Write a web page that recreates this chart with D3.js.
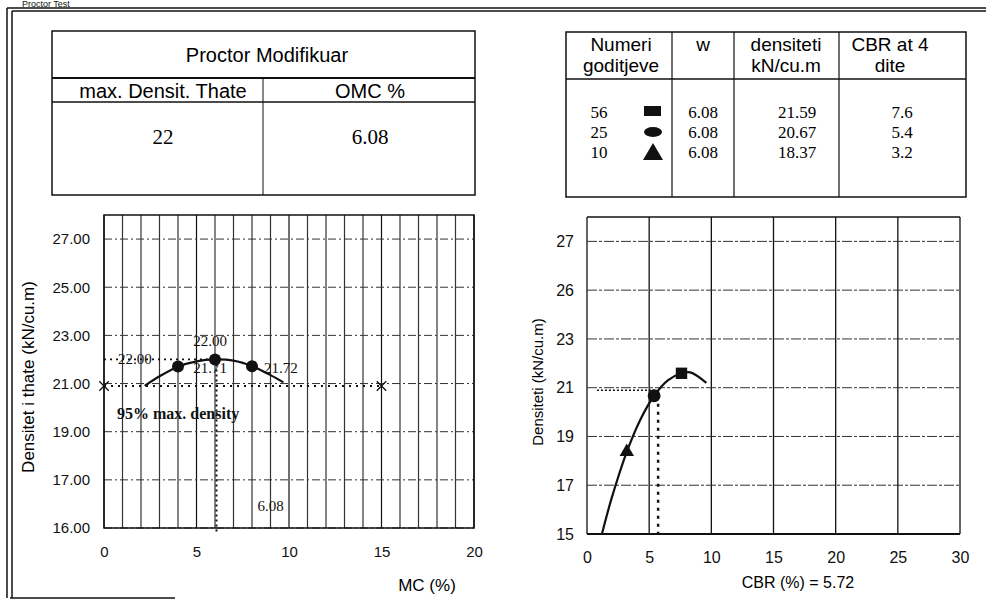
<!DOCTYPE html>
<html>
<head>
<meta charset="utf-8">
<script src="https://cdn.jsdelivr.net/npm/d3@7"></script>
<style>
  body { margin: 0; background: #fff; }
  svg { display: block; }
  .sans { font-family: "Liberation Sans", Arial, sans-serif; }
  .serif { font-family: "Liberation Serif", "Times New Roman", serif; }
</style>
</head>
<body>
<div id="chart-area"></div>
<script>
/*
*    proctor + CBR sheet
*/

// ---- data ----
var maxDensity = 22;
var omc = 6.08;
var density95 = 20.9;

// proctor test points
var mcPoints = [4, 6, 8];
var densPoints = [21.71, 22.00, 21.72];
var pointLabels = ["21.71", "22.00", "21.72"];

// proctor curve
var mcCurve = [2.2, 3, 4, 5, 6, 7, 8, 9, 9.7];
var densCurve = [20.9, 21.3, 21.7, 21.92, 22.0, 21.95, 21.72, 21.35, 21.05];

// 95% line ends
var mc95 = [0, 15];

// CBR table
var blows = [56, 25, 10];
var wValues = [6.08, 6.08, 6.08];
var cbrDens = [21.59, 20.67, 18.37];
var cbrValues = [7.6, 5.4, 3.2];
var cbrSymbols = ["square", "circle", "triangle"];

// CBR curve
var cbrCurve = [1.2, 2, 3.2, 4.3, 5.4, 6.5, 7.6, 8.3, 9.6];
var cbrDensCurve = [15, 16.5, 18.37, 19.7, 20.67, 21.3, 21.59, 21.63, 21.2];
var cbrResult = 5.72;

// ticks
var mcTicks = [0, 5, 10, 15, 20];
var cbrTicks = [0, 5, 10, 15, 20, 25, 30];
var yTicks = [15, 17, 19, 21, 23, 25, 27];
var leftYLabels = ["16.00", "17.00", "19.00", "21.00", "23.00", "25.00", "27.00"];
var rightYLabels = ["15", "17", "19", "21", "23", "26", "27"];

var W = 986, H = 600;

var svg = d3.select("#chart-area").append("svg")
    .attr("width", W)
    .attr("height", H);

// ---- sheet frame ----
svg.append("text").attr("class", "sans")
    .attr("x", 22).attr("y", 7)
    .attr("font-size", 9).attr("fill", "#111")
    .text("Proctor Test");

var frame = svg.append("g").attr("stroke", "#111").attr("fill", "none");
frame.append("line").attr("x1", 7).attr("y1", 8).attr("x2", W).attr("y2", 8).attr("stroke-width", 1.5);
frame.append("line").attr("x1", 12).attr("y1", 11).attr("x2", W).attr("y2", 11).attr("stroke-width", 1.5);
frame.append("line").attr("x1", 7).attr("y1", 8).attr("x2", 7).attr("y2", 598).attr("stroke-width", 1.5);
frame.append("line").attr("x1", 12).attr("y1", 11).attr("x2", 12).attr("y2", 598).attr("stroke-width", 1.5);
frame.append("line").attr("x1", 10).attr("y1", 598).attr("x2", 175).attr("y2", 598).attr("stroke-width", 1.5);

// ---- left table ----
var t1 = svg.append("g").attr("stroke", "#111").attr("fill", "none").attr("stroke-width", 1.5);
t1.append("rect").attr("x", 52).attr("y", 31).attr("width", 423).attr("height", 164);
t1.append("line").attr("x1", 52).attr("y1", 78).attr("x2", 475).attr("y2", 78).attr("stroke-width", 2);
t1.append("line").attr("x1", 52).attr("y1", 102).attr("x2", 475).attr("y2", 102);
t1.append("line").attr("x1", 263).attr("y1", 78).attr("x2", 263).attr("y2", 195).attr("stroke-width", 1);

svg.append("text").attr("class", "sans").attr("x", 267).attr("y", 62)
    .attr("text-anchor", "middle").attr("font-size", 20).text("Proctor Modifikuar");
svg.append("text").attr("class", "sans").attr("x", 163).attr("y", 98)
    .attr("text-anchor", "middle").attr("font-size", 20).text("max. Densit. Thate");
svg.append("text").attr("class", "sans").attr("x", 370).attr("y", 98)
    .attr("text-anchor", "middle").attr("font-size", 20).text("OMC %");
svg.append("text").attr("class", "serif").attr("x", 163).attr("y", 144)
    .attr("text-anchor", "middle").attr("font-size", 21).text(maxDensity);
svg.append("text").attr("class", "serif").attr("x", 370).attr("y", 144)
    .attr("text-anchor", "middle").attr("font-size", 21).text(omc.toFixed(2));

// ---- right table ----
var t2 = svg.append("g").attr("stroke", "#111").attr("fill", "none").attr("stroke-width", 1.5);
t2.append("rect").attr("x", 566).attr("y", 32).attr("width", 400).attr("height", 165);
t2.append("line").attr("x1", 566).attr("y1", 79).attr("x2", 966).attr("y2", 79);
[672, 734, 839].forEach((cx) => {
    t2.append("line").attr("x1", cx).attr("y1", 32).attr("x2", cx).attr("y2", 197).attr("stroke-width", 1.2);
});

var heads = [["Numeri", "goditjeve", 621], ["w", "", 703], ["densiteti", "kN/cu.m", 786], ["CBR at 4", "dite", 890]];
heads.forEach((h) => {
    svg.append("text").attr("class", "sans").attr("x", h[2]).attr("y", 51)
        .attr("text-anchor", "middle").attr("font-size", 19).text(h[0]);
    svg.append("text").attr("class", "sans").attr("x", h[2]).attr("y", 72)
        .attr("text-anchor", "middle").attr("font-size", 19).text(h[1]);
});

var rowY = d3.scalePoint().domain(blows).range([118, 158]);
var symGen = {
    square: d3.symbol().type(d3.symbolSquare),
    circle: d3.symbol().type(d3.symbolCircle),
    triangle: d3.symbol().type(d3.symbolTriangle)
};

blows.forEach((b, i) => {
    var y = rowY(b);
    svg.append("text").attr("class", "serif").attr("x", 599).attr("y", y)
        .attr("text-anchor", "middle").attr("font-size", 17).text(b);
    svg.append("text").attr("class", "serif").attr("x", 703).attr("y", y)
        .attr("text-anchor", "middle").attr("font-size", 17).text(wValues[i].toFixed(2));
    svg.append("text").attr("class", "serif").attr("x", 797).attr("y", y)
        .attr("text-anchor", "middle").attr("font-size", 17).text(cbrDens[i].toFixed(2));
    svg.append("text").attr("class", "serif").attr("x", 902).attr("y", y)
        .attr("text-anchor", "middle").attr("font-size", 17).text(cbrValues[i].toFixed(1));
});

// legend glyphs in table
svg.append("rect").attr("x", 644).attr("y", 106).attr("width", 17).attr("height", 10).attr("fill", "#111");
svg.append("ellipse").attr("cx", 653).attr("cy", 132).attr("rx", 9).attr("ry", 5).attr("fill", "#111");
svg.append("path").attr("d", "M643,160 L653,143 L663,160 Z").attr("fill", "#111");

// ---- left chart: proctor ----
var xL = d3.scaleLinear().domain([0, 20]).range([104, 474]);
var yL = d3.scaleLinear().domain([15, 28]).range([528, 215]);

var gL = svg.append("g");

// vertical grid every 1 %
gL.selectAll(".vg").data(d3.range(0, 21))
    .enter().append("line")
    .attr("x1", (d) => xL(d)).attr("x2", (d) => xL(d))
    .attr("y1", yL(28)).attr("y2", yL(15))
    .attr("stroke", (d) => (d % 5 === 0 ? "#111" : "#333"))
    .attr("stroke-width", 1.2);

// horizontal grid dash-dot
gL.selectAll(".hg").data(yTicks)
    .enter().append("line")
    .attr("x1", xL(0)).attr("x2", xL(20))
    .attr("y1", (d) => yL(d)).attr("y2", (d) => yL(d))
    .attr("stroke", "#333").attr("stroke-width", 1)
    .attr("stroke-dasharray", "8,3,2,3");

// frame
gL.append("rect").attr("x", xL(0)).attr("y", yL(28))
    .attr("width", xL(20) - xL(0)).attr("height", yL(15) - yL(28))
    .attr("fill", "none").attr("stroke", "#111").attr("stroke-width", 1.5);

// axes
var axL = gL.append("g").attr("transform", "translate(0," + yL(15) + ")")
    .call(d3.axisBottom(xL).tickValues(mcTicks).tickSize(0).tickPadding(18));
var ayL = gL.append("g").attr("transform", "translate(" + xL(0) + ",0)")
    .call(d3.axisLeft(yL).tickValues(yTicks).tickSize(0).tickPadding(14)
        .tickFormat((d, i) => leftYLabels[i]));
[axL, ayL].forEach((a) => {
    a.select(".domain").remove();
    a.selectAll("text").attr("class", "sans").attr("font-size", 15).attr("fill", "#111");
});

gL.append("text").attr("class", "sans")
    .attr("transform", "translate(34,377) rotate(-90)")
    .attr("text-anchor", "middle").attr("font-size", 17)
    .text("Densitet i thate (kN/cu.m)");
gL.append("text").attr("class", "sans")
    .attr("x", 427).attr("y", 591).attr("text-anchor", "middle").attr("font-size", 17)
    .text("MC (%)");

// 95% line
gL.append("line")
    .attr("x1", xL(mc95[0])).attr("x2", xL(mc95[1]))
    .attr("y1", yL(density95)).attr("y2", yL(density95))
    .attr("stroke", "#111").attr("stroke-width", 2).attr("stroke-dasharray", "2,5");
mc95.forEach((m) => {
    gL.append("path")
        .attr("d", d3.symbol().type(d3.symbolX).size(60)())
        .attr("transform", "translate(" + xL(m) + "," + yL(density95) + ")")
        .attr("stroke", "#111").attr("stroke-width", 1.3).attr("fill", "none");
});

// OMC / max density guide lines
gL.append("line")
    .attr("x1", xL(omc)).attr("x2", xL(omc))
    .attr("y1", yL(maxDensity)).attr("y2", yL(15) + 6)
    .attr("stroke", "#111").attr("stroke-width", 2).attr("stroke-dasharray", "2,3");
gL.append("line")
    .attr("x1", xL(0)).attr("x2", xL(omc))
    .attr("y1", yL(maxDensity)).attr("y2", yL(maxDensity))
    .attr("stroke", "#111").attr("stroke-width", 1.8).attr("stroke-dasharray", "2,4");

// curve
var lineL = d3.line().x((d) => xL(d[0])).y((d) => yL(d[1])).curve(d3.curveCatmullRom);
gL.append("path")
    .datum(d3.zip(mcCurve, densCurve))
    .attr("d", lineL)
    .attr("fill", "none").attr("stroke", "#111").attr("stroke-width", 2.2);

gL.selectAll(".pt").data(d3.zip(mcPoints, densPoints))
    .enter().append("circle")
    .attr("cx", (d) => xL(d[0])).attr("cy", (d) => yL(d[1]))
    .attr("r", 6).attr("fill", "#111");

// annotations
var ann = gL.append("g").attr("class", "serif").attr("font-size", 15).attr("fill", "#111");
ann.append("text").attr("x", xL(0) + 14).attr("y", yL(maxDensity) + 5).text(maxDensity.toFixed(2));
ann.append("text").attr("x", xL(mcPoints[1]) - 5).attr("y", yL(densPoints[1]) - 13)
    .attr("text-anchor", "middle").text(pointLabels[1]);
ann.append("text").attr("x", xL(mcPoints[1]) - 5).attr("y", yL(densPoints[0]) + 7)
    .attr("text-anchor", "middle").text(pointLabels[0]);
ann.append("text").attr("x", xL(mcPoints[2]) + 12).attr("y", yL(densPoints[2]) + 7)
    .text(pointLabels[2]);
ann.append("text").attr("x", xL(0) + 13).attr("y", yL(19.7) + 4).attr("font-weight", "bold")
    .attr("font-size", 16).text("95% max. density");
ann.append("text").attr("x", xL(8.3)).attr("y", yL(15.7)).text(omc.toFixed(2));

// ---- right chart: CBR ----
var xR = d3.scaleLinear().domain([0, 30]).range([587, 960]);
var yR = d3.scaleLinear().domain([15, 28]).range([534, 217]);

var gR = svg.append("g");

gR.selectAll(".vg").data(cbrTicks)
    .enter().append("line")
    .attr("x1", (d) => xR(d)).attr("x2", (d) => xR(d))
    .attr("y1", yR(28)).attr("y2", yR(15))
    .attr("stroke", "#111").attr("stroke-width", 1.3);

gR.selectAll(".hg").data(yTicks.slice(1))
    .enter().append("line")
    .attr("x1", xR(0)).attr("x2", xR(30))
    .attr("y1", (d) => yR(d)).attr("y2", (d) => yR(d))
    .attr("stroke", "#333").attr("stroke-width", 1)
    .attr("stroke-dasharray", "10,2,3,2");

gR.append("line").attr("x1", xR(0)).attr("x2", xR(30))
    .attr("y1", yR(28)).attr("y2", yR(28)).attr("stroke", "#111").attr("stroke-width", 1.3);
gR.append("line").attr("x1", xR(0)).attr("x2", xR(30))
    .attr("y1", yR(15)).attr("y2", yR(15)).attr("stroke", "#111").attr("stroke-width", 1.8);

var axR = gR.append("g").attr("transform", "translate(0," + yR(15) + ")")
    .call(d3.axisBottom(xR).tickValues(cbrTicks).tickSize(0).tickPadding(18));
var ayR = gR.append("g").attr("transform", "translate(" + xR(0) + ",0)")
    .call(d3.axisLeft(yR).tickValues(yTicks).tickSize(0).tickPadding(13)
        .tickFormat((d, i) => rightYLabels[i]));
[axR, ayR].forEach((a) => {
    a.select(".domain").remove();
    a.selectAll("text").attr("class", "sans").attr("font-size", 16).attr("fill", "#111");
});

gR.append("text").attr("class", "sans")
    .attr("transform", "translate(543,382) rotate(-90)")
    .attr("text-anchor", "middle").attr("font-size", 15)
    .text("Densiteti (kN/cu.m)");
gR.append("text").attr("class", "sans")
    .attr("x", 798).attr("y", 588).attr("text-anchor", "middle").attr("font-size", 16)
    .text("CBR (%) = " + cbrResult.toFixed(2));

// guide lines
gR.append("line")
    .attr("x1", xR(0.8)).attr("x2", xR(cbrValues[1]))
    .attr("y1", yR(density95)).attr("y2", yR(density95))
    .attr("stroke", "#111").attr("stroke-width", 1.5).attr("stroke-dasharray", "2,2");
gR.append("line")
    .attr("x1", xR(cbrResult)).attr("x2", xR(cbrResult))
    .attr("y1", yR(cbrDens[1])).attr("y2", yR(15))
    .attr("stroke", "#111").attr("stroke-width", 2.5).attr("stroke-dasharray", "3,5");

var lineR = d3.line().x((d) => xR(d[0])).y((d) => yR(d[1])).curve(d3.curveCatmullRom);
gR.append("path")
    .datum(d3.zip(cbrCurve, cbrDensCurve))
    .attr("d", lineR)
    .attr("fill", "none").attr("stroke", "#111").attr("stroke-width", 2.2);

gR.selectAll(".pt").data(d3.zip(cbrValues, cbrDens, cbrSymbols))
    .enter().append("path")
    .attr("d", (d) => symGen[d[2]].size(d[2] === "triangle" ? 90 : 130)())
    .attr("transform", (d) => "translate(" + xR(d[0]) + "," + yR(d[1]) + ")")
    .attr("fill", "#111");
</script>
</body>
</html>
